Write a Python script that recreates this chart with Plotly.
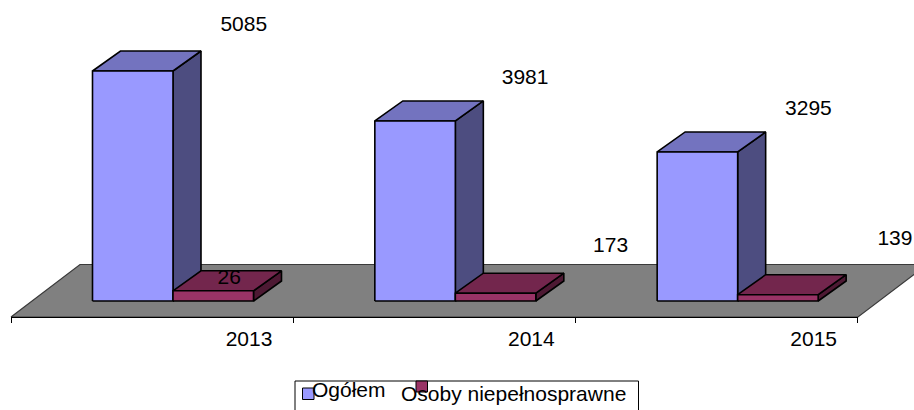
import plotly.graph_objects as go

# ---- data ----
categories = ["2013", "2014", "2015"]
series_names = ["Ogółem", "Osoby niepełnosprawne"]
ogolem = [5085, 3981, 3295]
niepelnosprawne = [226, 173, 139]          # drawn height of the short bars
ogolem_labels = ["5085", "3981", "3295"]
niepelnosprawne_labels = ["26", "173", "139"]  # text as printed in the picture

# ---- layout / style ----
W, H = 914, 410
PX_CAT = 282.33       # pixels per category
PX_VAL = 230 / 5085   # pixels per value unit
AX_L = 11             # pixel of category 0
Y0 = 301              # pixel row of value 0 at the bars' front
FLOOR_FRONT = 317
BAR_W = 80.5 / PX_CAT
BAR_GAP = 81.5 / PX_CAT
DEPTH_X, DEPTH_Y = 28 / PX_CAT, 20 / PX_VAL
FLOOR_DX, FLOOR_DY = 69 / PX_CAT, 52.5 / PX_VAL
FLOOR_Y = -(FLOOR_FRONT - Y0) / PX_VAL
FONT = "Liberation Sans, Arial, sans-serif"
FS = 21
OUT = "#000000"
STYLE = [
    dict(front="#9999FF", top="#7373BF", side="#4D4D80"),
    dict(front="#993366", top="#73264D", side="#4D1933"),
]
LABEL_OFFSETS = [
    [(111, 45), (110, 42), (111, 42)],
    [(16, 12), (115, 46), (117, 55)],
]

fig = go.Figure()


def poly(xs, ys, fill, color=OUT, width=1.6):
    fig.add_trace(go.Scatter(
        x=xs + xs[:1], y=ys + ys[:1], mode="lines", fill="toself",
        fillcolor=fill, line=dict(color=color, width=width),
        hoverinfo="skip", showlegend=False, xaxis="x", yaxis="y",
    ))


# floor
n = len(categories)
poly([0, n, n + FLOOR_DX, FLOOR_DX], [FLOOR_Y, FLOOR_Y, FLOOR_Y + FLOOR_DY, FLOOR_Y + FLOOR_DY],
     "#808080", color="#3a3a3a", width=1.2)

# bars
text_x, text_y, text_s = [], [], []
for i in range(n):
    for s, (vals, labels) in enumerate(((ogolem, ogolem_labels), (niepelnosprawne, niepelnosprawne_labels))):
        x0 = i + BAR_GAP + s * BAR_W
        x1 = x0 + BAR_W
        v = vals[i]
        st = STYLE[s]
        poly([x1, x1 + DEPTH_X, x1 + DEPTH_X, x1], [0, DEPTH_Y, v + DEPTH_Y, v], st["side"])
        poly([x0, x1, x1 + DEPTH_X, x0 + DEPTH_X], [v, v, v + DEPTH_Y, v + DEPTH_Y], st["top"])
        poly([x0, x1, x1, x0], [0, 0, v, v], st["front"])
        ox, oy = LABEL_OFFSETS[s][i]
        text_x.append((x0 + x1) / 2 + ox / PX_CAT)
        text_y.append(v + oy / PX_VAL)
        text_s.append(labels[i])

fig.add_trace(go.Scatter(
    x=text_x, y=text_y, text=text_s, mode="text", textposition="middle center",
    textfont=dict(family=FONT, size=FS, color="#000000"),
    hoverinfo="skip", showlegend=False, cliponaxis=False,
))

# real category axis: marks at the category boundaries, labels where the picture prints them
fig.add_trace(go.Scatter(x=[0, n], y=[0, 0], mode="lines", line=dict(width=0),
                         hoverinfo="skip", showlegend=False, xaxis="x2", yaxis="y"))

# legend, drawn to keep its overlapping entries
shapes = [
    dict(type="rect", xref="paper", yref="paper", x0=295 / W, x1=638.5 / W, y0=-0.05, y1=1 - 381 / H,
         line=dict(color="#000000", width=1), fillcolor="#ffffff"),
    dict(type="rect", xref="paper", yref="paper", x0=302.5 / W, x1=314 / W, y0=1 - 399.5 / H, y1=1 - 388 / H,
         line=dict(color="#000000", width=1), fillcolor=STYLE[0]["front"]),
    dict(type="rect", xref="paper", yref="paper", x0=416 / W, x1=427.5 / W, y0=1 - 392 / H, y1=1 - 381 / H,
         line=dict(color="#000000", width=1), fillcolor=STYLE[1]["front"]),
]
ann = [
    dict(text=series_names[0], xref="paper", yref="paper", x=349 / W, y=1 - 389 / H, showarrow=False,
         xanchor="center", yanchor="middle", font=dict(family=FONT, size=FS, color="#000000")),
    dict(text=series_names[1], xref="paper", yref="paper", x=513 / W, y=1 - 393.5 / H, showarrow=False,
         xanchor="center", yanchor="middle", font=dict(family=FONT, size=FS, color="#000000")),
]

fig.update_layout(
    width=W, height=H, margin=dict(l=0, r=0, t=0, b=0),
    paper_bgcolor="#ffffff", plot_bgcolor="rgba(0,0,0,0)", showlegend=False,
    xaxis=dict(domain=[0, 1], range=[-AX_L / PX_CAT, (W - AX_L) / PX_CAT], visible=False, fixedrange=True),
    yaxis=dict(domain=[0, 1], range=[-(H - Y0) / PX_VAL, Y0 / PX_VAL], visible=False, fixedrange=True),
    xaxis2=dict(
        domain=[AX_L / W, (AX_L + n * PX_CAT) / W], range=[0, n], anchor="free",
        position=1 - FLOOR_FRONT / H, showline=True, linecolor="#000000", linewidth=1,
        showgrid=False, zeroline=False, fixedrange=True,
        tickmode="array", tickvals=[i + 0.843 for i in range(n)], ticktext=categories,
        ticks="", tickfont=dict(family=FONT, size=FS, color="#000000"), ticklabelstandoff=3,
        minor=dict(tickmode="array", tickvals=list(range(n + 1)), ticks="outside", ticklen=5,
                   tickcolor="#000000", tickwidth=1, showgrid=False),
    ),
    shapes=shapes, annotations=ann,
)

fig.write_html("out.html", config=dict(displayModeBar=False),
               post_script="document.body.style.margin='0';document.body.style.overflow='hidden';")
